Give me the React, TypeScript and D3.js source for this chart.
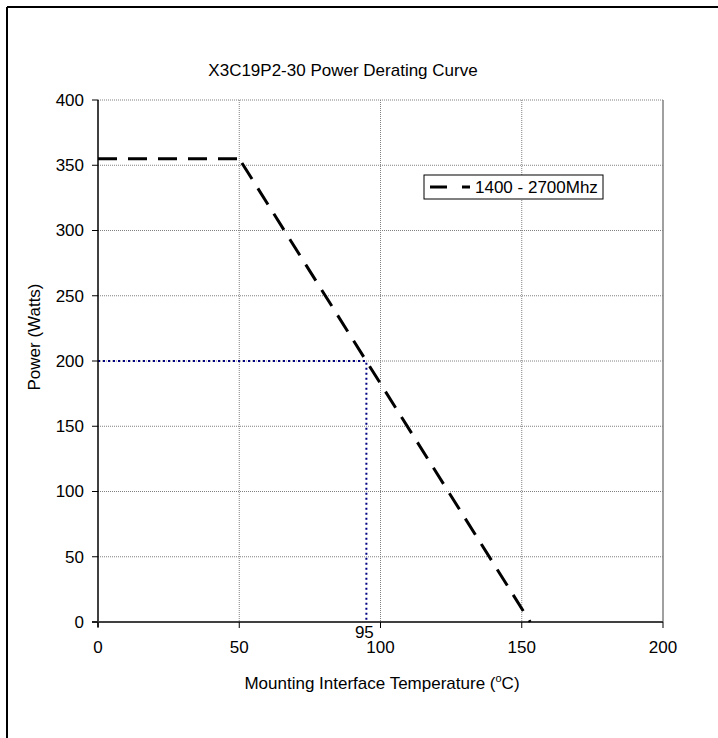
import React from "react";
import * as d3 from "d3";

const seriesName = "1400 - 2700Mhz";
const flatTemp = [0, 50];
const flatPower = [355, 355];
const slopeTemp = [50, 153];
const slopePower = [355, 0];
const refTemp = [0, 95, 95];
const refPower = [200, 200, 0];
const xTicks = [0, 50, 100, 150, 200];
const yTicks = [0, 50, 100, 150, 200, 250, 300, 350, 400];
const markTemp = 95;

const W = 718;
const H = 738;
const L = 98, R = 663, T = 100, B = 622;

export default function App() {
  const x = d3.scaleLinear().domain([0, 200]).range([L, R]);
  const y = d3.scaleLinear().domain([0, 400]).range([B, T]);
  const mk = (xs: number[]) => d3.line<number>().x((d, i) => x(xs[i])).y((d) => y(d));
  const font = "Arial, 'Liberation Sans', sans-serif";
  const fs = 17;
  return (
    <svg width={W} height={H} style={{ position: "absolute", left: 0, top: 0 }} fontFamily={font}>
      <rect x={0} y={0} width={W} height={H} fill="#fff" />
      <line x1={7} x2={W} y1={7} y2={7} stroke="#000" strokeWidth={2} />
      <line x1={7} x2={7} y1={7} y2={H} stroke="#000" strokeWidth={2} />
      <text x={343} y={76} textAnchor="middle" fontSize={fs}>X3C19P2-30 Power Derating Curve</text>
      {yTicks.filter((v) => v > 0).map((v) => (
        <line key={"gy" + v} x1={L} x2={R} y1={y(v)} y2={y(v)} stroke="#808080" strokeWidth={1} strokeDasharray="1,1" />
      ))}
      {xTicks.filter((v) => v > 0 && v < 200).map((v) => (
        <line key={"gx" + v} x1={x(v)} x2={x(v)} y1={T} y2={B} stroke="#808080" strokeWidth={1} strokeDasharray="1,1" />
      ))}
      <line x1={R} x2={R} y1={T} y2={B} stroke="#808080" strokeWidth={1.5} />
      <path d={mk(refTemp)(refPower) || ""} fill="none" stroke="#000080" strokeWidth={2} strokeDasharray="2,3" />
      <line x1={L} x2={L} y1={T} y2={B + 5} stroke="#000" strokeWidth={1.5} />
      <line x1={L - 6} x2={R} y1={B} y2={B} stroke="#404040" strokeWidth={2} />
      {yTicks.map((v) => (
        <g key={"ty" + v}>
          <line x1={L - 6} x2={L} y1={y(v)} y2={y(v)} stroke="#000" strokeWidth={1} />
          <text x={84} y={y(v)} dy="0.35em" textAnchor="end" fontSize={fs}>{v}</text>
        </g>
      ))}
      {xTicks.map((v) => (
        <g key={"tx" + v}>
          <line x1={x(v)} x2={x(v)} y1={B} y2={B + 6} stroke="#000" strokeWidth={1} />
          <text x={x(v)} y={653} textAnchor="middle" fontSize={fs}>{v}</text>
        </g>
      ))}
      <text x={x(markTemp) - 2} y={638} textAnchor="middle" fontSize={fs}>{markTemp}</text>
      <path d={mk(flatTemp)(flatPower) || ""} fill="none" stroke="#000" strokeWidth={3} strokeDasharray="19,11" />
      <path d={mk(slopeTemp)(slopePower) || ""} fill="none" stroke="#000" strokeWidth={3} strokeDasharray="19,11" strokeDashoffset={25} />
      <rect x={424} y={175} width={179} height={24} fill="#fff" stroke="#000" strokeWidth={1} />
      <line x1={430} x2={470} y1={187} y2={187} stroke="#000" strokeWidth={3} strokeDasharray="17,15" />
      <text x={475} y={187} dy="0.36em" fontSize={fs}>{seriesName}</text>
      <text x={382} y={689} textAnchor="middle" fontSize={fs}>
        Mounting Interface Temperature (<tspan dy={-7} fontSize={11}>o</tspan><tspan dy={7}>C)</tspan>
      </text>
      <text transform={`translate(40,337) rotate(-90)`} textAnchor="middle" fontSize={fs}>Power (Watts)</text>
    </svg>
  );
}
